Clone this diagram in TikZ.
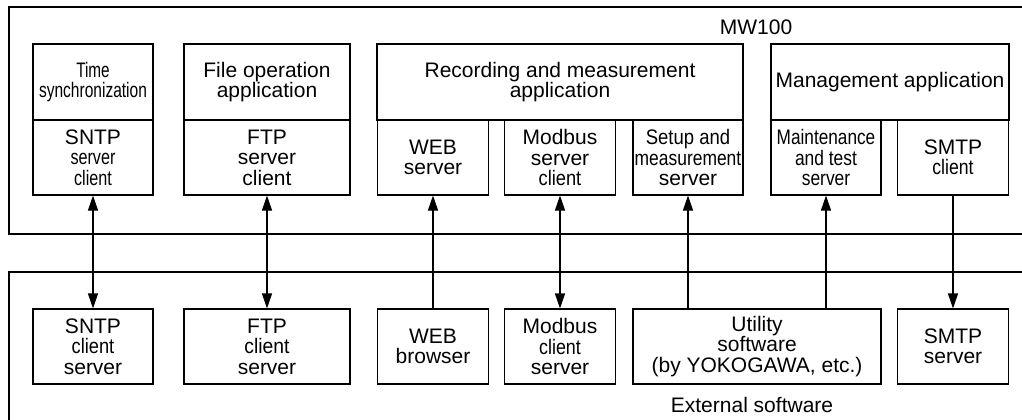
\documentclass[tikz,border=0pt]{standalone}
\usepackage{fontspec}
\setmainfont{Liberation Sans}
\usepackage{graphicx}
\usetikzlibrary{arrows.meta}
\newcommand{\cnd}[2]{\scalebox{#1}[1]{#2}}

\begin{document}
\begin{tikzpicture}[x=1pt, y=-1pt, line width=1.1pt, >={Triangle[length=15pt, width=10pt]},
  box/.style={draw, inner sep=0pt, align=center, font=\fontsize{21}{20.5}\selectfont},
  lbl/.style={inner sep=0pt, font=\fontsize{21}{20.5}\selectfont}]
\useasboundingbox (0,0) rectangle (1022,420);
% frames
\draw (1024,7) -- (9,7) -- (9,234) -- (1024,234);
\draw (1024,272) -- (9,272) -- (9,422);
\node[lbl] (mw) at (756,27) {MW100};
\node[lbl] (ext) at (752,405) {External software};

%MW100 applications
\node[box, minimum width=120pt, minimum height=76pt] (tsync) at (93,82) {\cnd{.73}{Time}\\ \cnd{.74}{synchronization}};
\node[box, minimum width=120pt, minimum height=75pt] (sntpA) at (93,157.5) {SNTP\\ \cnd{.77}{server}\\ \cnd{.77}{client}};
\node[box, minimum width=166pt, minimum height=76pt] (fileop) at (267,82) {File operation\\ application};
\node[box, minimum width=166pt, minimum height=75pt] (ftpA) at (267,157.5) {FTP\\ server\\ client};
\node[box, minimum width=366pt, minimum height=76pt] (recapp) at (560,82) {Recording and measurement\\ application};
\node[box, minimum width=111pt, minimum height=75pt] (webA) at (433,157.5) {WEB\\ server};
\node[box, minimum width=111pt, minimum height=75pt] (modA) at (560,157.5) {Modbus\\ server\\ \cnd{.87}{client}};
\node[box, minimum width=110pt, minimum height=75pt] (setupA) at (688,157.5) {\cnd{.88}{Setup and}\\ \cnd{.83}{measurement}\\ server};
\node[box, minimum width=238pt, minimum height=76pt] (mgmt) at (890,82) {Management application};
\node[box, minimum width=110pt, minimum height=75pt] (maintA) at (826,157.5) {\cnd{.82}{Maintenance}\\ \cnd{.83}{and test}\\ \cnd{.83}{server}};
\node[box, minimum width=111pt, minimum height=75pt] (smtpA) at (953,157.5) {SMTP\\ \cnd{.84}{client}};

%external software
\node[box, minimum width=120pt, minimum height=75pt] (sntpB) at (93,346.5) {SNTP\\ \cnd{.87}{client}\\ server};
\node[box, minimum width=166pt, minimum height=75pt] (ftpB) at (267,346.5) {FTP\\ \cnd{.92}{client}\\ server};
\node[box, minimum width=111pt, minimum height=75pt] (webB) at (433,346.5) {WEB\\ browser};
\node[box, minimum width=111pt, minimum height=75pt] (modB) at (560,346.5) {Modbus\\ \cnd{.85}{client}\\ server};
\node[box, minimum width=248pt, minimum height=75pt] (util) at (757,346.5) {Utility\\ software\\ (by YOKOGAWA, etc.)};
\node[box, minimum width=111pt, minimum height=75pt] (smtpB) at (953,346.5) {SMTP\\ server};

%connections
\draw[<->] (sntpA) -- (sntpB);
\draw[<->] (ftpA) -- (ftpB);
\draw[->] (webB) -- (webA);
\draw[<->] (modA) -- (modB);
\draw[->] (util.north -| setupA.south) -- (setupA);
\draw[->] (util.north -| maintA.south) -- (maintA);
\draw[->] (smtpA) -- (smtpB);
\end{tikzpicture}
\end{document}
